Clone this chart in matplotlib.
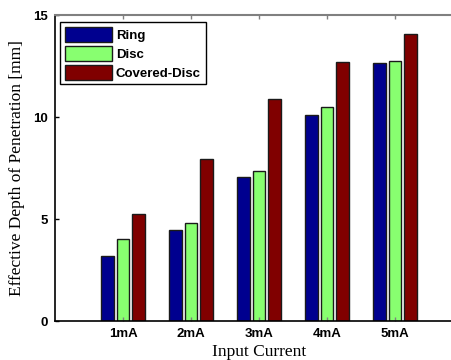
import numpy as np
import matplotlib
matplotlib.use("Agg")
import matplotlib.pyplot as plt

# values
currents = ["1mA", "2mA", "3mA", "4mA", "5mA"]
ring = [3.2, 4.48, 7.06, 10.1, 12.63]
disc = [4.0, 4.79, 7.35, 10.47, 12.76]
covered_disc = [5.23, 7.93, 10.87, 12.68, 14.07]

series = [("Ring", ring, "#00008f"),
          ("Disc", disc, "#88ff70"),
          ("Covered-Disc", covered_disc, "#800000")]

fig = plt.figure(figsize=(4.51, 3.6), dpi=100)
ax = fig.add_axes([55 / 451, 39 / 360, 408 / 451, 306 / 360])

x = np.arange(1, len(currents) + 1)
offsets = [-0.23, 0.0, 0.23]
for (name, vals, col), off in zip(series, offsets):
    ax.bar(x + off, vals, width=0.185, color=col, edgecolor="#1a1a1a",
           linewidth=1.0, label=name)

ax.set_xlim(0, 6)
ax.set_ylim(0, 15)
ax.set_xticks(x)
ax.set_xticklabels(currents)
ax.set_yticks([0, 5, 10, 15])

for lab in ax.get_xticklabels() + ax.get_yticklabels():
    lab.set_fontweight("bold")
    lab.set_fontfamily("Liberation Sans")
    lab.set_fontsize(9.5)

ax.tick_params(direction="in", top=True, right=False, length=3, width=1, pad=5)
ax.tick_params(axis="x", which="both", colors="#808080", labelcolor="black")
ax.tick_params(axis="y", colors="black")
ax.spines["top"].set_color("#808080")
ax.spines["top"].set_linewidth(1.5)
ax.spines["left"].set_linewidth(1.2)
ax.spines["bottom"].set_linewidth(1.2)
ax.spines["right"].set_visible(False)

ax.set_xlabel("Input Current", family="Liberation Serif", fontsize=12.5, labelpad=3)
ax.set_ylabel("Effective Depth of Penetration [mm]", family="Liberation Serif",
              fontsize=12.5, labelpad=6)

leg = ax.legend(loc="upper left", bbox_to_anchor=(0.012, 0.977), borderaxespad=0,
                prop={"family": "Liberation Sans", "weight": "bold", "size": 9.5},
                fancybox=False, edgecolor="black", framealpha=1,
                handlelength=3.6, handleheight=1.4, handletextpad=0.3,
                labelspacing=0.28, borderpad=0.35)
leg.get_frame().set_linewidth(1.0)

fig.savefig("out.png", dpi=100)
